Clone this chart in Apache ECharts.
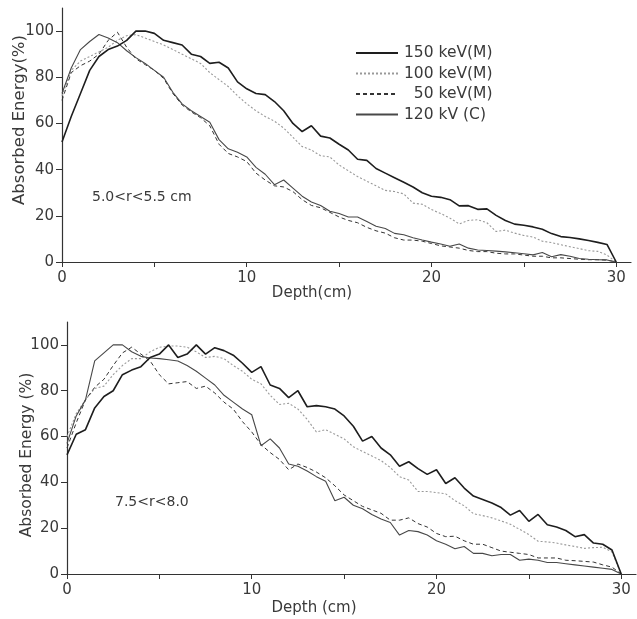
<!DOCTYPE html>
<html>
<head>
<meta charset="utf-8">
<script src="https://cdn.jsdelivr.net/npm/echarts@6/dist/echarts.min.js"></script>
<style>
html,body{margin:0;padding:0;background:#fff;}
#c{width:637px;height:619px;}
</style>
</head>
<body>
<div id="c"></div>
<script>
// Depth (cm)
const depth = [0,0.5,1,1.5,2,2.5,3,3.5,4,4.5,5,5.5,6,6.5,7,7.5,8,8.5,9,9.5,10,10.5,11,11.5,12,12.5,13,13.5,14,14.5,15,15.5,16,16.5,17,17.5,18,18.5,19,19.5,20,20.5,21,21.5,22,22.5,23,23.5,24,24.5,25,25.5,26,26.5,27,27.5,28,28.5,29,29.5,30];

const seriesNames = ['150 keV(M)','100 keV(M)','50 keV(M)','120 kV (C)'];

// Upper panel: 5.0 < r < 5.5 cm
const top150 = [52,63,73,83,89,92,93.5,96,100,100,99,96,95,94,90,89,86,86.5,84,78,75,73,72.5,69.5,65.5,60,56.5,59,54.5,53.7,51,48.5,44.5,44,40.5,38.5,36.5,34.5,32.5,30,28.5,28,27,24.3,24.4,22.8,23,20.2,18,16.4,15.9,15.2,14.2,12.3,11,10.6,10,9.3,8.5,7.6,0];
const top100 = [72,83,87,89,91,93,96,98,98.5,97,95.5,94,92,90,88,86,82,79,76,72,68.5,65.5,63,61,58,54,50,48.5,46,45.5,42,39.5,37,35,33,31,30.5,29.5,25.5,25,22.7,21,19,16.5,18,18.3,17,13.2,13.8,12.5,11.5,10.8,9,8.4,7.5,6.6,5.8,4.9,4.6,3,0];
const top50 = [70,82,85,87,90,96,99.5,93,88,85.5,83,79.5,73,68,65,62.5,59,51,47,45.5,43.5,38.5,35.5,33,32.5,30.5,27,24.5,23.5,21.5,19.5,18,17,15,13.5,12.5,10.5,9.5,9.5,9,8,7,6.5,6,5,4.5,4.5,3.8,3.5,3.5,3,2.5,2.5,1.8,1.8,1.5,1.2,1,1,0.8,0];
const top120 = [73,84,92,95.5,98.5,97,95,91.5,88.5,86,83,80,73.5,68.5,65.5,63,60.5,53,49,47.5,45.5,41,38,33.5,35.5,32,28.5,26,24.5,22,21,19.5,19.5,17.5,15.5,14.5,12.4,11.8,10.5,9.5,8.6,7.8,6.8,7.8,6,5.2,5,4.7,4.4,4,3.6,3.1,4.1,2.3,3.2,2.5,1.5,1.2,1,0.9,0];

// Lower panel: 7.5 < r < 8.0 cm
const bot150 = [52,61,63,72.5,77.5,80,87,89,90.5,94.5,96,100,94.5,96,100,96,98.8,97.5,95.5,92,88,90.5,82.5,81,77,80,73,73.5,73,72,69,64.5,58,60,55,52,47,49,46,43.5,45.5,39.5,42,37.5,34,32.5,31,29,25.7,27.7,23,26,21.5,20.5,19,16.3,17.2,13.5,13,10.5,0];
const bot100 = [60,70,76,81,82,87,91,94,94,97,99,99.5,99.5,99,97,94.5,95,94,91,88.5,85,83,78,74,74.5,72,67.5,62,63,61,59,55.5,53.5,51.5,49.5,46.5,42.5,41,36,36,35.5,35,32,29.8,26.3,25.5,24.5,23.2,21.7,19.5,17.2,14.3,14,13.5,12.7,12,11.2,11.5,11.7,9.6,0];
const bot50 = [55,66,76,81.5,85,91,96.5,99,96,93,87,83,83.5,84,81,82,79,75,72,66.5,62,56.5,53,50,45.5,48,46.5,44.5,42,38.5,34.5,32,29.5,28,26.5,23.5,23.5,24.5,22,20.5,17.7,16.3,16.5,14.5,13,13,11.5,10,9.5,9,8.5,7,7,7,6,5.8,5.5,5.2,4,3,0];
const bot120 = [57,69,76,93,96.5,100,100,97,95,94.3,94,93.5,93,91,88.5,85.5,82.5,78,75,72,69.5,56,59,55,48,47,45,42.5,40.5,32,33.5,30,28.5,26,24,22.5,17,19,18.5,17,14.5,13,11,12,9,9,8,8.5,8.5,6,6.5,6,5,5,4.5,4,3.5,3,2.5,2,0];

const xTicks = [0,5,10,15,20,25,30];
const xLabels = [0,10,20,30];
const yTicks = [0,20,40,60,80,100];

const FONT = 'DejaVu Sans';
const TXT = '#3a3a3a';

const styles = {
  '150 keV(M)': {color:'#1e1e1e', width:1.6, type:'solid'},
  '100 keV(M)': {color:'#999999', width:1.1, type:[2,2]},
  '50 keV(M)':  {color:'#333333', width:1, type:[4,3]},
  '120 kV (C)': {color:'#484848', width:1.1, type:'solid'}
};

function pairs(arr){ return depth.map((d,i)=>[d, arr[i]]); }
function mk(name, arr, gi){
  const s = styles[name];
  return {
    name: name, type:'line', xAxisIndex: gi, yAxisIndex: gi,
    data: pairs(arr), symbol:'none', showSymbol:false, smooth:false,
    lineStyle:{color:s.color, width:s.width, type:s.type},
    itemStyle:{color:s.color},
    emphasis:{disabled:true}, z: name==='150 keV(M)'?5:3
  };
}

function xAxis(gi){
  return {
    type:'value', gridIndex:gi, min:0, max:30.8,
    axisLine:{show:true, onZero:false, lineStyle:{color:'#333', width:1.2}},
    axisTick:{show:true, length:5, customValues:xTicks, lineStyle:{color:'#333'}},
    axisLabel:{customValues:xLabels, fontFamily:FONT, fontSize:15, color:TXT, margin:9},
    splitLine:{show:false}
  };
}
function yAxis(gi){
  return {
    type:'value', gridIndex:gi, min:0, max:110,
    axisLine:{show:true, onZero:false, lineStyle:{color:'#333', width:1.2}},
    axisTick:{show:true, length:6, customValues:yTicks, lineStyle:{color:'#333'}},
    axisLabel:{customValues:yTicks, fontFamily:FONT, fontSize:15, color:TXT, margin:8},
    splitLine:{show:false}
  };
}

const chart = echarts.init(document.getElementById('c'), null, {renderer:'canvas'});
chart.setOption({
  animation:false,
  backgroundColor:'#fff',
  grid:[
    {left:62, top:8, width:569, height:254},
    {left:67, top:322, width:569, height:252}
  ],
  xAxis:[xAxis(0), xAxis(1)],
  yAxis:[yAxis(0), yAxis(1)],
  legend:{
    data: seriesNames, orient:'vertical', left:350, top:40,
    itemWidth:42, itemHeight:14, itemGap:4.5,
    selectedMode:false,
    itemStyle:{opacity:0},
    formatter: n => n==='50 keV(M)' ? '\u2007' + n : n,
    textStyle:{fontFamily:FONT, fontSize:15.5, color:TXT, padding:[0,0,0,1]}
  },
  graphic:[
    {type:'text', x:20, y:120, rotation:Math.PI/2, style:{text:'Absorbed Energy(%)', font:'16.5px "DejaVu Sans"', fill:TXT, textAlign:'center', textVerticalAlign:'middle'}},
    {type:'text', x:27, y:455, rotation:Math.PI/2, style:{text:'Absorbed Energy (%)', font:'15.5px "DejaVu Sans"', fill:TXT, textAlign:'center', textVerticalAlign:'middle'}},
    {type:'text', x:312, y:293, style:{text:'Depth(cm)', font:'15px "DejaVu Sans"', fill:TXT, textAlign:'center', textVerticalAlign:'middle'}},
    {type:'text', x:314, y:608, style:{text:'Depth (cm)', font:'15px "DejaVu Sans"', fill:TXT, textAlign:'center', textVerticalAlign:'middle'}},
    {type:'text', x:92, y:197, style:{text:'5.0<r<5.5 cm', font:'14px "DejaVu Sans"', fill:TXT, textAlign:'left', textVerticalAlign:'middle'}},
    {type:'text', x:115, y:502, style:{text:'7.5<r<8.0', font:'14px "DejaVu Sans"', fill:TXT, textAlign:'left', textVerticalAlign:'middle'}}
  ],
  series:[
    mk('150 keV(M)', top150, 0),
    mk('100 keV(M)', top100, 0),
    mk('50 keV(M)', top50, 0),
    mk('120 kV (C)', top120, 0),
    mk('150 keV(M)', bot150, 1),
    mk('100 keV(M)', bot100, 1),
    mk('50 keV(M)', bot50, 1),
    mk('120 kV (C)', bot120, 1)
  ]
});
</script>
</body>
</html>
